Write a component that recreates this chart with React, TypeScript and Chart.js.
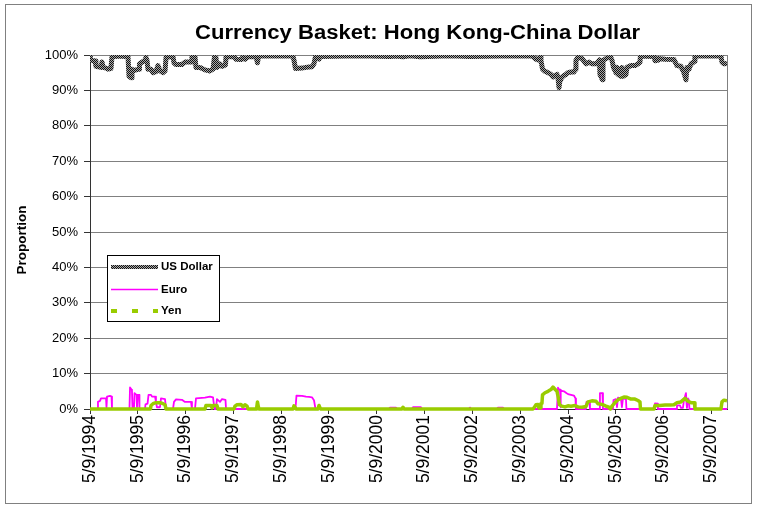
import { useEffect, useRef } from "react";
import { Chart, registerables } from "chart.js";
Chart.register(...registerables);

const titleText = "Currency Basket: Hong Kong-China Dollar";
const yAxisTitle = "Proportion";
const tickLabels = ["5/9/1994","5/9/1995","5/9/1996","5/9/1997","5/9/1998","5/9/1999","5/9/2000","5/9/2001","5/9/2002","5/9/2003","5/9/2004","5/9/2005","5/9/2006","5/9/2007"];
const seriesNames = ["US Dollar", "Euro", "Yen"];

// x = weeks since 5/9/1994, y = percent
const usdWeek = [0,1.1,5.5,6.5,12,13.1,14.2,17.5,19.6,22.9,24,32.7,41.5,42.6,44.8,45.8,46.9,50.2,53.5,54,56.8,60,61.1,62.2,63.3,66.6,68.8,72,74.2,76.4,79.7,81.9,83,87.3,90.6,91.7,93.9,100.4,103.7,110.3,111.3,114.6,115.7,120.1,125.5,131,134.3,135.9,137.5,138.6,141.9,144.1,147.9,148.5,157.2,159.4,164.8,167,169.2,172.5,181.2,182.8,183.9,185.6,221.6,222.7,224.3,231.4,235.8,239.1,242.3,244.5,246.2,248.9,250,251.1,294.7,327.5,334,341.7,349.3,360.2,393,414.8,447.6,482.5,486.9,489,491.8,492.3,494,496.7,500,503.2,505.4,507.6,509.8,510.9,512,513.1,514.1,517.4,519.6,521.8,525.1,528.3,530,530.5,532.7,537.1,541.4,544.7,548,552.4,554.5,556.2,556.7,559.4,560,563.3,568.2,569.8,571.5,574.2,575.3,576.4,579.6,580.7,581.8,585.1,586.2,590.6,594.9,598.2,600.4,600.9,615.7,616.8,619.5,620,627.7,637.5,640.8,645.1,648.4,650.6,651.7,653.9,656.1,659.9,660.4,688.8,689.9,692.1,695.4];
const usdPct = [100,98.5,98.3,96.8,96.5,98,96.5,96.3,96,96.2,99.5,99.7,99.5,94,93.6,96,95.5,95.8,96,97.5,98,98.5,99.3,98.5,96,96,95,95.3,97,95.5,95,95.5,99.3,99.5,99.5,97.8,97.3,97.3,98,98,99.5,99.5,96.5,96.5,95.8,95.5,96,99.5,99.3,96.5,97.5,96.8,97.2,99.5,99.5,98.8,98.7,99.4,98.8,99.5,99.6,97.8,99.5,99.7,99.7,98.5,96.2,96.3,96.5,96.6,96.7,97.5,99.6,99.6,98.8,99.6,99.8,99.6,99.7,99.5,99.8,99.5,99.8,99.6,99.7,99.8,98.8,98.6,99.6,98.4,96,95.4,95,94.5,93.8,94.2,94.5,93.5,90.8,93,93.5,94.2,94.5,95,95.2,95.2,96,98.5,99.4,99,97.5,98,97.5,97.5,98,98.6,94.5,93,98.5,99,99.5,98.6,96.5,95,96.5,94.5,94,96.5,94,94.5,96.5,97,97,97.5,98,99.7,99.6,98.4,98.5,99,98.8,98.7,97,96.8,95,93,96.5,96,97.5,98.2,99.7,99.7,98,97.5,97.6];

const euroWeek = [0,6.5,8.2,8.7,10.9,12,17.5,18,18.6,21.8,23.5,24,43.1,43.7,45.3,45.8,46.4,48,48.6,50.8,51.3,51.9,53.5,54,60,60.6,62.8,63.9,66.6,67.7,71,72,73.1,76.4,77.5,81.9,83,90.6,91.7,93.9,100.4,103.7,110.3,111.3,114.6,115.7,125.5,131,134.3,135.9,137.5,138.6,141.9,144.1,147.9,148.5,224.3,225.4,231.4,235.8,239.1,242.3,244.5,246.2,326.4,327.5,334,335.1,351.5,352.6,361.3,362.4,413.7,414.8,415.9,444.3,445.4,450.8,451.9,509.8,510.9,512,513.1,513.6,514.1,517.4,519.6,521.8,525.1,528.3,530,530.5,541.4,542,545.3,545.8,556.2,556.7,559.4,560,570.9,571.5,574.2,575.3,576.4,579.6,580.7,581.8,585.1,585.6,616.2,616.8,619.5,620,640.2,640.8,644,645.1,647.3,648.4,650.6,651.1,651.7,652.8,653.9,654.4,695.4];
const euroPct = [0,0,0,2,2.3,3,3,0.5,3.5,3.7,3.5,0,0,6.1,5.5,5.3,0,0,4.5,4,0.5,4,4,0,0,1.3,1.5,4,4,3.5,3.5,2,0.5,0.5,3,2.8,0,0,2,2.7,2.6,2,2,0,0,3,3.2,3.5,3.3,0,0,2.8,2,2.8,2.6,0,0,3.8,3.7,3.5,3.4,3.3,2.5,0,0,0.4,0.4,0,0,0.5,0.5,0,0,0.4,0,0,0.4,0.4,0,0,6,5.5,5.5,0.5,5.2,5,4.6,4.2,4,3.8,3,0,0,2,1.8,0,0,4.5,4.5,0,0,2.5,2.8,0.5,3.2,3,0.5,3,2.8,0,0,1.6,1.5,0,0,1,1,0.3,0.3,2.5,4.5,2,0.3,3,2.5,0,0];

const yenWeek = [0,66,66.6,68.8,72,76.4,79.7,81.9,83,125.5,126.6,132.1,133.2,134.3,138.6,139.7,157.2,158.3,160.5,164.8,167,169.2,171.4,172.5,181.8,182.8,183.9,184.5,221.6,222.7,223.8,224.9,248.9,250,251.1,252.2,340.6,341.7,342.8,483.6,485.2,486.9,489,490.1,491.8,492.3,493.4,494,496.7,500,503.2,505.4,507.6,509.8,511.4,512.5,515.2,518.5,521.8,525.1,529.4,532.7,537.1,541.4,543.6,548,552.4,554.5,558.9,563.3,566.5,568.2,569.8,573.1,576.4,579.6,582.9,586.2,590.6,594.9,598.2,600.4,600.9,615.7,616.8,622.2,627.7,633.1,637.5,640.8,645.1,649.5,652.8,656.1,659.9,660.4,688.8,689.9,692.1,695.4];
const yenPct = [0,0,1,1.5,1.8,1.8,1.5,1.2,0,0,1,1,0.3,1,1,0,0,0.8,1.2,1.3,0.6,1.2,0.8,0,0,2,0.5,0,0,0.9,0.5,0,0,1,0.3,0,0,0.5,0,0,0.5,1.2,1.3,0.3,0.3,1.5,1.6,4,4.6,5,5.5,6.2,5.6,5,3,1.2,0.8,0.6,0.9,0.8,1,0.6,0.5,0.7,2,2.3,2.2,1.5,1.3,0.8,0.5,0,0.8,1.8,2.6,3,3.4,3.3,2.8,2.8,2.4,2,0,0,1,1,1.1,1.1,1.2,1.8,2,3,2.2,1.8,1.8,0,0,2,2.5,2.3];

const FONT = '"Liberation Sans", Arial, Helvetica, sans-serif';

export default function App() {
  const ref = useRef<HTMLCanvasElement>(null);
  useEffect(() => {
    document.body.style.margin = "0";
    const canvas = ref.current!;
    const ctx0 = canvas.getContext("2d")!;
    const pc = document.createElement("canvas");
    pc.width = 2; pc.height = 2;
    const pctx = pc.getContext("2d")!;
    pctx.fillStyle = "#a8a8a8"; pctx.fillRect(0, 0, 2, 2);
    pctx.fillStyle = "#111"; pctx.fillRect(0, 0, 1, 1); pctx.fillRect(1, 1, 1, 1);
    const pattern = ctx0.createPattern(pc, "repeat")!;

    const toPts = (w: number[], p: number[]) => w.map((x, i) => ({ x, y: p[i] }));
    const baseDate = Date.UTC(1994, 4, 9);
    const tickWeeks = tickLabels.map((s) => {
      const [m, d, y] = s.split("/").map(Number);
      return (Date.UTC(y, m - 1, d) - baseDate) / (7 * 86400000);
    });

    const decor = {
      id: "decor",
      afterDraw(chart: any) {
        const ctx = chart.ctx as CanvasRenderingContext2D;
        const a = chart.chartArea;
        ctx.save();
        ctx.strokeStyle = "#808080"; ctx.lineWidth = 1;
        ctx.strokeRect(5.5, 4.5, 746, 499);
        ctx.beginPath(); ctx.moveTo(Math.round(a.right) + 0.5, a.top); ctx.lineTo(Math.round(a.right) + 0.5, a.bottom); ctx.stroke();
        ctx.fillStyle = "#000";
        ctx.font = `bold 19.5px ${FONT}`;
        ctx.textAlign = "center"; ctx.textBaseline = "alphabetic";
        const tw = ctx.measureText(titleText).width;
        ctx.save(); ctx.translate(417.5, 39); ctx.scale(445 / tw, 1); ctx.fillText(titleText, 0, 0); ctx.restore();
        ctx.save(); ctx.translate(22, 240); ctx.rotate(-Math.PI / 2);
        ctx.font = `bold 13.5px ${FONT}`; ctx.textBaseline = "middle"; ctx.fillText(yAxisTitle, 0, 0); ctx.restore();
        const lx = 107.5, ly = 255.5, lw = 112, lh = 66;
        ctx.fillStyle = "#fff"; ctx.fillRect(lx, ly, lw, lh);
        ctx.strokeStyle = "#000"; ctx.strokeRect(lx, ly, lw, lh);
        const rows = [267, 289.5, 311];
        const ds = chart.data.datasets;
        rows.forEach((ry, i) => {
          ctx.save();
          ctx.beginPath();
          ctx.moveTo(111, ry); ctx.lineTo(158, ry);
          if (i === 0) { ctx.strokeStyle = pattern; ctx.lineWidth = 4; }
          if (i === 1) { ctx.strokeStyle = "#FF00FF"; ctx.lineWidth = 1.5; }
          if (i === 2) { ctx.strokeStyle = "#99CC00"; ctx.lineWidth = 4; ctx.setLineDash([6, 15]); }
          ctx.stroke();
          ctx.restore();
          ctx.fillStyle = "#000";
          ctx.font = `bold 11.5px ${FONT}`;
          ctx.textAlign = "left"; ctx.textBaseline = "middle";
          ctx.fillText(ds[i].label, 161, ry);
        });
        ctx.restore();
      },
    };

    const clip = { left: 0, top: 0, right: 0, bottom: 4 };
    const chart = new Chart(canvas, {
      type: "line",
      data: {
        datasets: [
          { label: seriesNames[0], data: toPts(usdWeek, usdPct), borderColor: pattern as any, borderWidth: 5, borderJoinStyle: "round", pointRadius: 0, tension: 0, order: 2, clip: clip as any },
          { label: seriesNames[1], data: toPts(euroWeek, euroPct), borderColor: "#FF00FF", borderWidth: 1.8, borderJoinStyle: "round", pointRadius: 0, tension: 0, order: 1, clip: clip as any },
          { label: seriesNames[2], data: toPts(yenWeek, yenPct), borderColor: "#99CC00", borderWidth: 3.5, borderJoinStyle: "round", pointRadius: 0, tension: 0, order: 0, clip: clip as any },
        ],
      },
      options: {
        animation: false,
        responsive: false,
        layout: { padding: { top: 55, right: 30, bottom: 0, left: 0 } },
        plugins: { legend: { display: false }, tooltip: { enabled: false }, title: { display: false } },
        scales: {
          x: {
            type: "linear",
            min: 0,
            max: usdWeek[usdWeek.length - 1],
            afterBuildTicks: (s: any) => { s.ticks = tickWeeks.map((v) => ({ value: v })); },
            afterFit: (s: any) => { s.height = 100; },
            grid: { drawOnChartArea: false, drawTicks: true, tickLength: 5, color: "#333" },
            border: { display: true, color: "#333" },
            ticks: {
              autoSkip: false, maxRotation: 90, minRotation: 90, padding: 1, color: "#000",
              font: { family: FONT, size: 17.5 },
              callback: (_v: any, i: number) => tickLabels[i],
            },
          },
          y: {
            min: 0,
            max: 100,
            afterFit: (s: any) => { s.width = 90; },
            grid: { color: "#808080", tickColor: "#333", tickLength: 6 },
            border: { color: "#333" },
            ticks: { stepSize: 10, padding: 6, color: "#000", font: { family: FONT, size: 13 }, callback: (v: any) => v + "%" },
          },
        },
      },
      plugins: [decor],
    });
    return () => chart.destroy();
  }, []);
  return <canvas ref={ref} width={757} height={509} style={{ display: "block" }} />;
}
